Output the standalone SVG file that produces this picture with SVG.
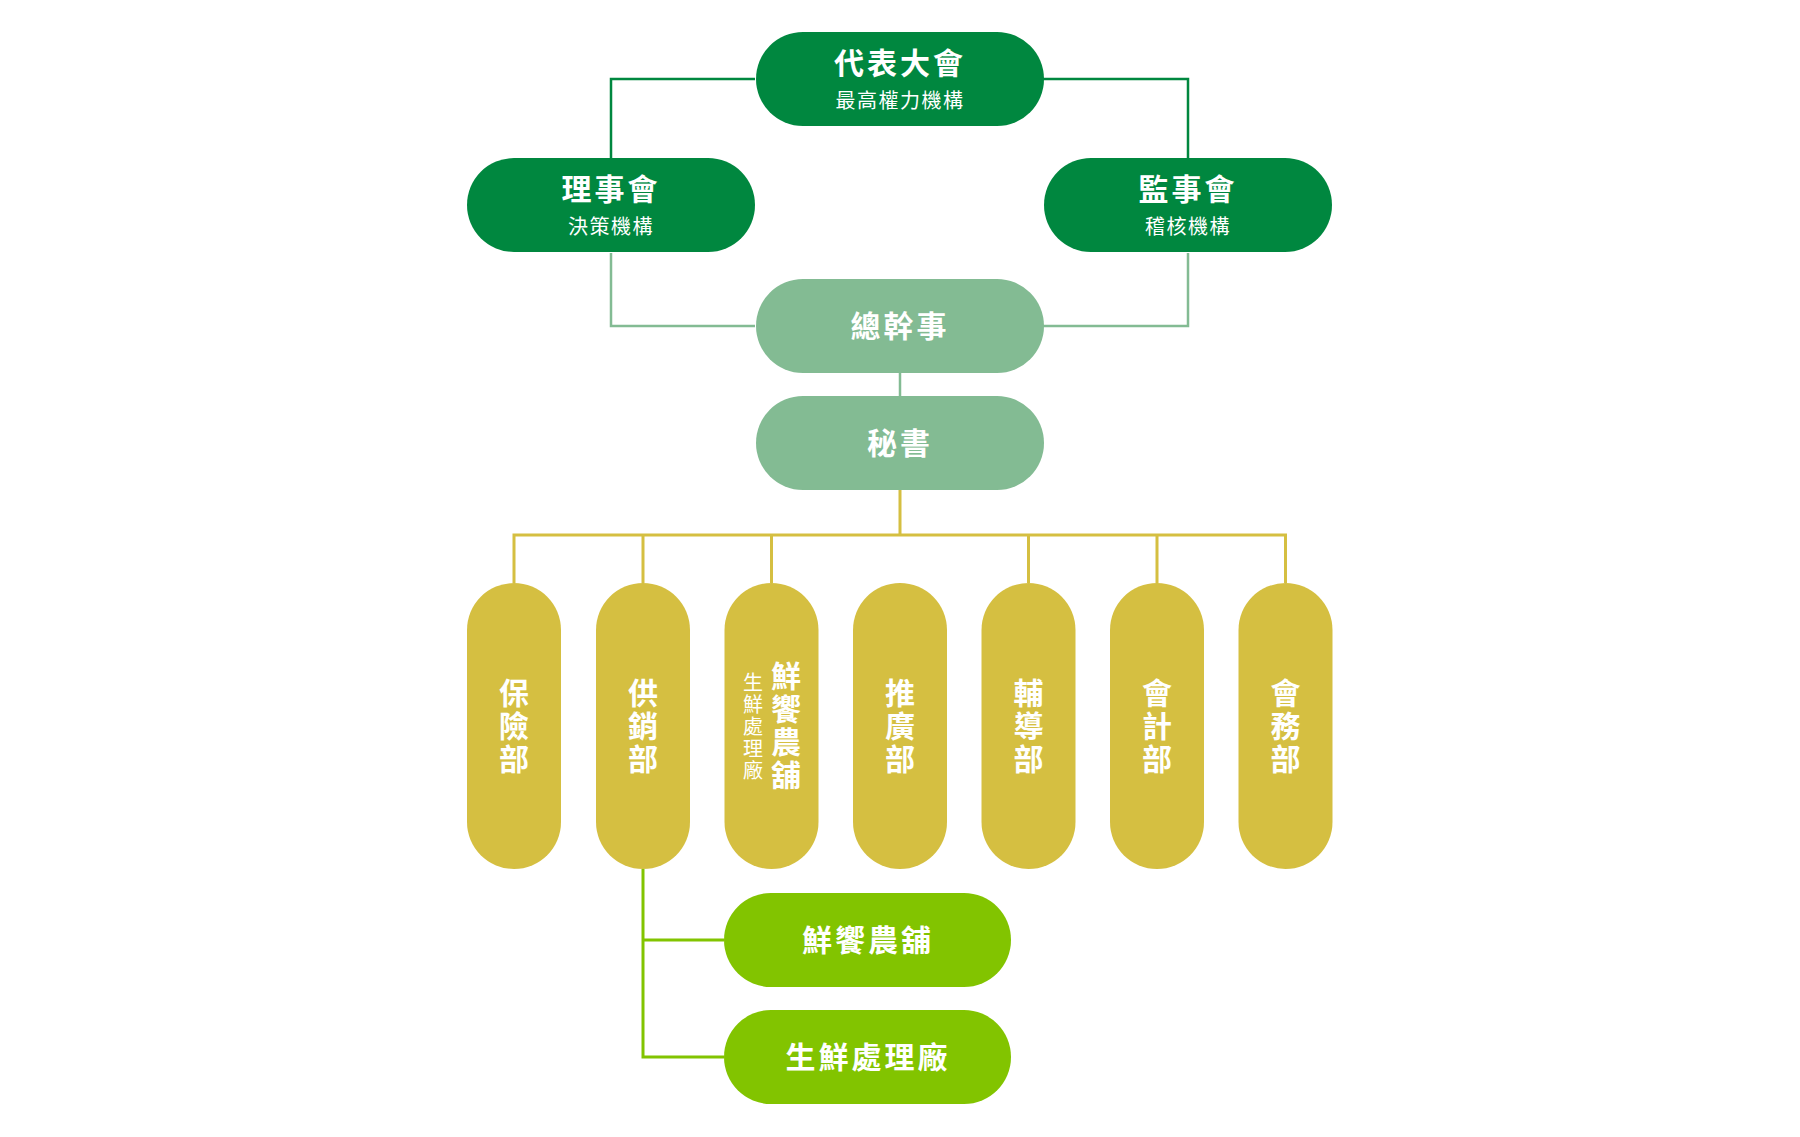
<svg xmlns="http://www.w3.org/2000/svg" width="1800" height="1137" viewBox="0 0 1800 1137">
<style>
.dk{fill:#00873f}
.lt{fill:#83bb93}
.yl{fill:#d5bf41}
.lm{fill:#82c400}
.t{font-family:"Noto Sans CJK TC","Noto Sans CJK SC",sans-serif;font-weight:700;fill:#fff;text-anchor:middle}
.s{font-family:"Noto Sans CJK TC","Noto Sans CJK SC",sans-serif;font-weight:400;fill:#fff;text-anchor:middle}
.v{writing-mode:vertical-rl}
.c{fill:none}
</style>
<rect width="1800" height="1137" fill="#fff"/>
<g id="connectors" class="c">
<path d="M755 79H611V158M1042 79H1188V158" stroke="#00873f" stroke-width="2.5"/>
<path d="M611 253V326H755M1188 253V326H1042M900 373V396" stroke="#83bb93" stroke-width="2.5"/>
<path d="M900 490V535M514 583V535H1285.5V583M643 535V583M771.5 535V583M1028.5 535V583M1157 535V583" stroke="#d5bf41" stroke-width="3"/>
<path d="M643 869V1057H724M643 940H724" stroke="#82c400" stroke-width="3"/>
</g>
<g id="n-daibiao">
<rect class="dk" x="756" y="32" width="288" height="94" rx="47"/>
<text class="t" x="900" y="74" font-size="30" letter-spacing="3">代表大會</text>
<text class="s" x="900" y="108" font-size="20" letter-spacing="1.5">最高權力機構</text>
</g>
<g id="n-lishi">
<rect class="dk" x="467" y="158" width="288" height="94" rx="47"/>
<text class="t" x="611" y="200" font-size="30" letter-spacing="3">理事會</text>
<text class="s" x="611" y="234" font-size="20" letter-spacing="1.5">決策機構</text>
</g>
<g id="n-jianshi">
<rect class="dk" x="1044" y="158" width="288" height="94" rx="47"/>
<text class="t" x="1188" y="200" font-size="30" letter-spacing="3">監事會</text>
<text class="s" x="1188" y="234" font-size="20" letter-spacing="1.5">稽核機構</text>
</g>
<g id="n-zongganshi">
<rect class="lt" x="756" y="279" width="288" height="94" rx="47"/>
<text class="t" x="900" y="337" font-size="30" letter-spacing="3">總幹事</text>
</g>
<g id="n-mishu">
<rect class="lt" x="756" y="396" width="288" height="94" rx="47"/>
<text class="t" x="900" y="454" font-size="30" letter-spacing="3">秘書</text>
</g>
<g id="n-baoxian">
<rect class="yl" x="467" y="583" width="94" height="286" rx="47"/>
<text class="t v" x="514" y="727" font-size="30" letter-spacing="3">保險部</text>
</g>
<g id="n-gongxiao">
<rect class="yl" x="596" y="583" width="94" height="286" rx="47"/>
<text class="t v" x="643" y="727" font-size="30" letter-spacing="3">供銷部</text>
</g>
<g id="n-xianxiang">
<rect class="yl" x="724.5" y="583" width="94" height="286" rx="47"/>
<text class="t v" x="786" y="727" font-size="30" letter-spacing="3">鮮饗農舖</text>
<text class="s v" x="753" y="727" font-size="20" letter-spacing="2">生鮮處理廠</text>
</g>
<g id="n-tuiguang">
<rect class="yl" x="853" y="583" width="94" height="286" rx="47"/>
<text class="t v" x="900" y="727" font-size="30" letter-spacing="3">推廣部</text>
</g>
<g id="n-fudao">
<rect class="yl" x="981.5" y="583" width="94" height="286" rx="47"/>
<text class="t v" x="1028.5" y="727" font-size="30" letter-spacing="3">輔導部</text>
</g>
<g id="n-kuaiji">
<rect class="yl" x="1110" y="583" width="94" height="286" rx="47"/>
<text class="t v" x="1157" y="727" font-size="30" letter-spacing="3">會計部</text>
</g>
<g id="n-huiwu">
<rect class="yl" x="1238.5" y="583" width="94" height="286" rx="47"/>
<text class="t v" x="1285.5" y="727" font-size="30" letter-spacing="3">會務部</text>
</g>
<g id="n-shop">
<rect class="lm" x="724" y="893" width="287" height="94" rx="47"/>
<text class="t" x="868" y="951" font-size="30" letter-spacing="3">鮮饗農舖</text>
</g>
<g id="n-plant">
<rect class="lm" x="724" y="1010" width="287" height="94" rx="47"/>
<text class="t" x="868" y="1068" font-size="30" letter-spacing="3">生鮮處理廠</text>
</g>
</svg>
